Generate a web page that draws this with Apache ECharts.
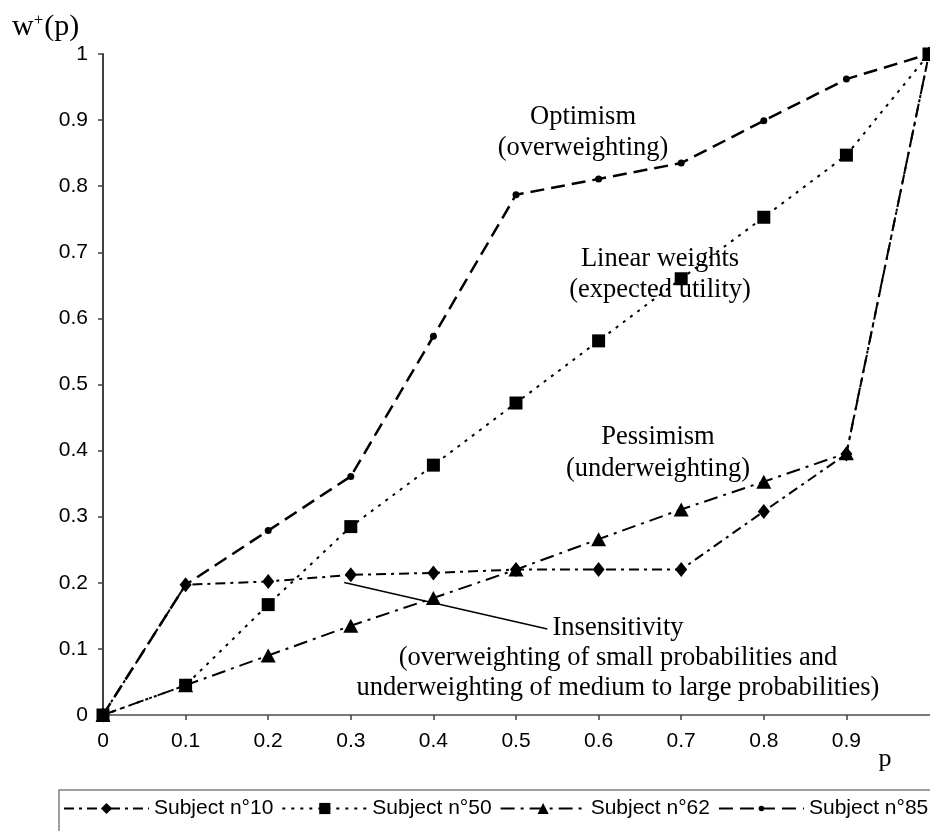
<!DOCTYPE html>
<html><head><meta charset="utf-8">
<script src="https://cdn.jsdelivr.net/npm/echarts@6/dist/echarts.min.js"></script>
<style>html,body{margin:0;padding:0;background:#fff}#c{width:930px;height:831px}</style>
</head><body><div id="c"></div>
<script>
// ---- data ----
const pValues   = [0, 0.1, 0.2, 0.3, 0.4, 0.5, 0.6, 0.7, 0.8, 0.9, 1];
const subject10 = [0, 0.197, 0.202, 0.212, 0.215, 0.220, 0.220, 0.220, 0.308, 0.395, 1];
const subject50 = [0, 0.045, 0.167, 0.285, 0.378, 0.472, 0.566, 0.660, 0.753, 0.847, 1];
const subject62 = [0, 0.045, 0.090, 0.135, 0.177, 0.220, 0.266, 0.311, 0.353, 0.396, 1];
const subject85 = [0, 0.197, 0.279, 0.361, 0.573, 0.787, 0.811, 0.835, 0.899, 0.962, 1];
const seriesNames = ['Subject n°10', 'Subject n°50', 'Subject n°62', 'Subject n°85'];
const axisTicks = [0, 0.1, 0.2, 0.3, 0.4, 0.5, 0.6, 0.7, 0.8, 0.9, 1];
const insensitivityPointer = [[0.292, 0.2005], [0.538, 0.130]];
const annotations = [
  ['Optimism', '(overweighting)'],
  ['Linear weights', '(expected utility)'],
  ['Pessimism', '(underweighting)'],
  ['Insensitivity', '(overweighting of small probabilities and', 'underweighting of medium to large probabilities)']
];

const pairs = arr => pValues.map((p, i) => [p, arr[i]]);
const serif = '"Liberation Serif", "Times New Roman", serif';
const sans = '"Liberation Sans", Arial, sans-serif';
const fmt = v => { const r = Math.round(v * 10) / 10; return axisTicks.includes(r) ? String(r) : ''; };
// small dot centred in a larger invisible box so that the legend dot stays small too
const smallDot = 'path://M0 0M12 12M3 6A3 3 0 1 1 9 6A3 3 0 1 1 3 6Z';

const chart = echarts.init(document.getElementById('c'), null, {renderer: 'canvas'});

function txt(s, x, y, size, align) {
  return {type: 'text', x: x, y: y, style: {text: s, font: size + 'px ' + serif, fill: '#000', align: align || 'center', verticalAlign: 'middle'}};
}

const axisCommon = {
  type: 'value', min: 0, max: 1, interval: 0.1,
  splitLine: {show: false},
  axisLine: {show: true, onZero: false, lineStyle: {color: '#404040', width: 2}},
  axisTick: {show: true, length: 5, lineStyle: {color: '#404040', width: 1.5}},
};

const option = {
  animation: false,
  backgroundColor: '#fff',
  grid: {left: 103, top: 54, width: 826, height: 661, containLabel: false},
  xAxis: [
    Object.assign({}, axisCommon, {
      position: 'bottom',
      axisLabel: {margin: 16, color: '#000', fontFamily: sans, fontSize: 21, formatter: fmt, showMaxLabel: false}
    }),
    {type: 'value', min: 0, max: 1, position: 'top', splitLine: {show: false},
     axisLine: {show: true, lineStyle: {color: '#8a8a8a', width: 1.5}}, axisTick: {show: false}, axisLabel: {show: false}}
  ],
  yAxis: Object.assign({}, axisCommon, {
    axisLabel: {margin: 15, color: '#000', fontFamily: sans, fontSize: 21, formatter: fmt}
  }),
  legend: {
    left: 59, top: 790, width: 880,
    padding: [8, 12, 40, 4],
    itemWidth: 85, itemHeight: 14, itemGap: 8,
    borderColor: '#808080', borderWidth: 1.5,
    textStyle: {fontFamily: sans, fontSize: 21, color: '#000'},
    data: seriesNames
  },
  series: [
    {name: seriesNames[0], type: 'line', data: pairs(subject10), symbol: 'diamond', symbolSize: [12, 15],
     itemStyle: {color: '#000'}, lineStyle: {color: '#000', width: 2, type: [10, 5, 3, 5]},
     markLine: {silent: true, symbol: 'none', label: {show: false},
       lineStyle: {color: '#000', width: 1.5, type: 'solid'},
       data: [[{coord: insensitivityPointer[0]}, {coord: insensitivityPointer[1]}]]}},
    {name: seriesNames[1], type: 'line', data: pairs(subject50), symbol: 'rect', symbolSize: 13,
     itemStyle: {color: '#000'}, lineStyle: {color: '#000', width: 2, type: [3, 6]}},
    {name: seriesNames[2], type: 'line', data: pairs(subject62), symbol: 'triangle', symbolSize: [15, 14],
     itemStyle: {color: '#000'}, lineStyle: {color: '#000', width: 2, type: [14, 6, 3, 6]}},
    {name: seriesNames[3], type: 'line', data: pairs(subject85), symbol: smallDot, symbolSize: 14,
     itemStyle: {color: '#000'}, lineStyle: {color: '#000', width: 2.5, type: [14, 7]}}
  ],
  graphic: [
    {type: 'text', x: 12, y: 27, style: {
      text: '{w|w}{s|+}{w|(p)}', verticalAlign: 'middle', align: 'left',
      rich: {w: {font: '30px ' + serif, fill: '#000'}, s: {font: '17px ' + serif, fill: '#000', verticalAlign: 'top', padding: [0, 1, 12, 0]}}
    }},
    txt('p', 885, 759, 26),
    txt(annotations[0][0], 583, 117, 26.5), txt(annotations[0][1], 583, 148, 26.5),
    txt(annotations[1][0], 660, 259, 26.5), txt(annotations[1][1], 660, 290, 26.5),
    txt(annotations[2][0], 658, 437, 26.5), txt(annotations[2][1], 658, 469, 26.5),
    txt(annotations[3][0], 618, 628, 26.5), txt(annotations[3][1], 618, 658, 26.5), txt(annotations[3][2], 618, 688, 26.5)
  ]
};
chart.setOption(option);
</script>
</body></html>
